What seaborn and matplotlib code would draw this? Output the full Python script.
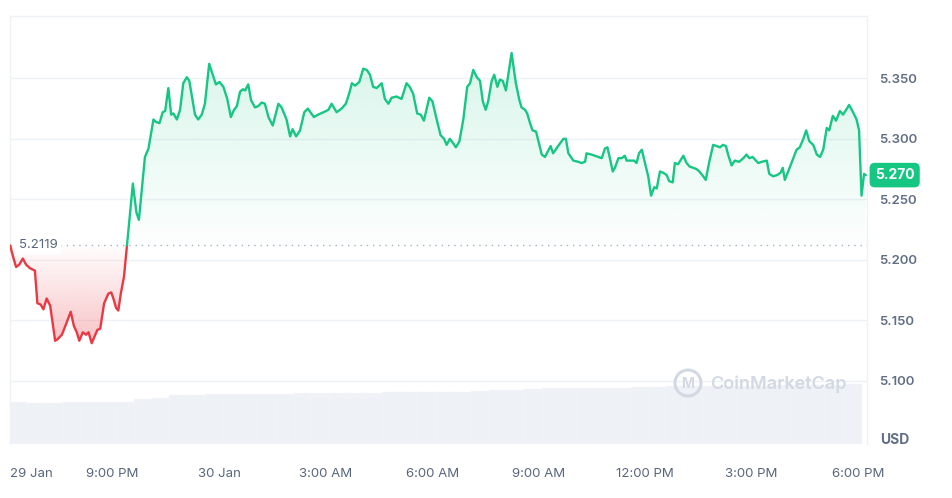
import numpy as np
import pandas as pd
import seaborn as sns
import matplotlib.pyplot as plt
import matplotlib.transforms as mtransforms
from matplotlib.path import Path
from matplotlib.patches import Ellipse

# hours after 29 Jan 00:00
times = [18.11, 18.20, 18.28, 18.37, 18.47, 18.56, 18.67, 18.81, 18.88, 18.97,
         19.05, 19.14, 19.24, 19.38, 19.44, 19.57, 19.69, 19.82, 19.91, 19.99,
         20.06, 20.16, 20.25, 20.32, 20.41, 20.57, 20.65, 20.76, 20.88, 20.96,
         21.02, 21.10, 21.16, 21.23, 21.32, 21.57, 21.67, 21.74, 21.91, 22.01,
         22.15, 22.22, 22.32, 22.41, 22.48, 22.57, 22.65, 22.71, 22.81, 22.90,
         22.99, 23.09, 23.16, 23.32, 23.41, 23.51, 23.60, 23.72, 23.82, 23.91,
         24.01, 24.12, 24.23, 24.33, 24.42, 24.50, 24.59, 24.67, 24.73, 24.82,
         24.90, 25.01, 25.10, 25.20, 25.29, 25.39, 25.51, 25.67, 25.76, 25.90,
         26.00, 26.07, 26.17, 26.28, 26.40, 26.50, 26.67, 26.79, 26.94, 27.08,
         27.17, 27.31, 27.45, 27.57, 27.67, 27.74, 27.83, 27.95, 28.06, 28.16,
         28.25, 28.34, 28.44, 28.58, 28.67, 28.77, 28.86, 29.00, 29.14, 29.28,
         29.37, 29.47, 29.58, 29.68, 29.77, 29.92, 30.01, 30.13, 30.24, 30.34,
         30.41, 30.50, 30.58, 30.67, 30.77, 30.88, 30.99, 31.07, 31.16, 31.26,
         31.35, 31.43, 31.51, 31.58, 31.68, 31.75, 31.84, 31.91, 31.99, 32.08,
         32.24, 32.36, 32.46, 32.52, 32.62, 32.68, 32.76, 32.83, 32.93, 33.09,
         33.18, 33.34, 33.41, 33.55, 33.70, 33.77, 33.84, 33.98, 34.12, 34.21,
         34.31, 34.35, 34.49, 34.68, 34.78, 34.87, 34.94, 35.01, 35.09, 35.15,
         35.25, 35.34, 35.43, 35.48, 35.57, 35.69, 35.76, 35.83, 35.91, 35.99,
         36.09, 36.17, 36.26, 36.33, 36.42, 36.51, 36.61, 36.68, 36.78, 36.84,
         36.93, 37.08, 37.17, 37.26, 37.36, 37.45, 37.53, 37.64, 37.71, 37.81,
         37.92, 38.02, 38.11, 38.20, 38.28, 38.34, 38.44, 38.53, 38.65, 38.77,
         38.86, 38.94, 39.03, 39.19, 39.29, 39.43, 39.50, 39.61, 39.72, 39.82,
         39.88, 39.94, 40.06, 40.18, 40.27, 40.36, 40.46, 40.54, 40.63, 40.74,
         40.84, 40.93, 41.02, 41.12, 41.19, 41.29, 41.38, 41.49, 41.58, 41.75,
         41.86, 41.96, 42.03, 42.10, 42.17, 42.22]

prices = [5.2119, 5.202, 5.194, 5.196, 5.201, 5.196, 5.193, 5.191, 5.164, 5.163,
          5.159, 5.168, 5.162, 5.133, 5.134, 5.138, 5.147, 5.157, 5.145, 5.140,
          5.133, 5.140, 5.138, 5.140, 5.131, 5.142, 5.143, 5.164, 5.172, 5.173,
          5.168, 5.160, 5.158, 5.172, 5.186, 5.263, 5.239, 5.233, 5.285, 5.292,
          5.316, 5.314, 5.313, 5.322, 5.323, 5.342, 5.320, 5.321, 5.316, 5.324,
          5.346, 5.351, 5.348, 5.320, 5.316, 5.320, 5.329, 5.362, 5.353, 5.345,
          5.347, 5.343, 5.333, 5.318, 5.324, 5.327, 5.339, 5.341, 5.340, 5.345,
          5.332, 5.326, 5.327, 5.330, 5.329, 5.318, 5.311, 5.329, 5.326, 5.316,
          5.302, 5.308, 5.302, 5.307, 5.322, 5.325, 5.318, 5.320, 5.322, 5.324,
          5.329, 5.322, 5.325, 5.329, 5.338, 5.346, 5.344, 5.347, 5.358, 5.357,
          5.353, 5.343, 5.342, 5.346, 5.333, 5.329, 5.334, 5.335, 5.333, 5.346,
          5.343, 5.337, 5.321, 5.320, 5.315, 5.334, 5.331, 5.316, 5.303, 5.300,
          5.295, 5.300, 5.297, 5.293, 5.298, 5.316, 5.343, 5.346, 5.357, 5.351,
          5.348, 5.331, 5.324, 5.331, 5.348, 5.353, 5.343, 5.349, 5.348, 5.340,
          5.371, 5.346, 5.332, 5.326, 5.324, 5.321, 5.313, 5.307, 5.306, 5.287,
          5.285, 5.294, 5.288, 5.294, 5.300, 5.300, 5.288, 5.282, 5.281, 5.280,
          5.281, 5.288, 5.287, 5.285, 5.284, 5.292, 5.293, 5.284, 5.273, 5.276,
          5.284, 5.284, 5.286, 5.282, 5.282, 5.282, 5.280, 5.288, 5.291, 5.281,
          5.269, 5.253, 5.260, 5.259, 5.273, 5.272, 5.270, 5.265, 5.264, 5.280,
          5.279, 5.286, 5.280, 5.277, 5.276, 5.275, 5.273, 5.269, 5.266, 5.281,
          5.295, 5.294, 5.293, 5.295, 5.294, 5.287, 5.278, 5.282, 5.281, 5.284,
          5.287, 5.284, 5.285, 5.280, 5.281, 5.282, 5.271, 5.269, 5.270, 5.272,
          5.276, 5.266, 5.275, 5.284, 5.291, 5.293, 5.300, 5.307, 5.298, 5.295,
          5.287, 5.285, 5.291, 5.309, 5.307, 5.319, 5.315, 5.323, 5.320, 5.328,
          5.322, 5.316, 5.307, 5.253, 5.271, 5.270]

# 30-minute volume bars (millions USD), centred from 18:21 onward
vol_times = [18.35 + 0.5 * i for i in range(48)]
volumes = [10.6, 10.3, 10.3, 10.5, 10.5, 10.5, 10.5, 11.3, 11.6, 12.2,
           12.2, 12.4, 12.4, 12.4, 12.4, 12.4, 12.7, 12.7, 12.7, 12.8,
           12.8, 12.9, 12.9, 13.0, 13.0, 13.1, 13.3, 13.5, 13.6, 13.7,
           13.9, 14.0, 14.0, 14.0, 14.1, 14.3, 14.3, 14.4, 14.4, 14.5,
           14.5, 14.6, 14.6, 14.7, 14.7, 14.8, 14.8, 15.0]

base_price = 5.2119
tick_hours = [18.11, 21, 24, 27, 30, 33, 36, 39, 42]
tick_labels = ["29 Jan", "9:00 PM", "30 Jan", "3:00 AM", "6:00 AM",
               "9:00 AM", "12:00 PM", "3:00 PM", "6:00 PM"]
price_ticks = [5.100, 5.150, 5.200, 5.250, 5.300, 5.350]

GREEN = "#16c784"
RED = "#ea3943"
TXT = "#616e85"
GRID = "#eff2f5"

sns.set_theme(style="white")
plt.rcParams['font.family'] = ['Inter', 'DejaVu Sans']

df = pd.DataFrame({'t': times, 'p': prices})

fig = plt.figure(figsize=(9.52, 4.98), dpi=100)
ax = fig.add_axes([0.0102, 0.1084, 0.900, 0.860])
ax2 = ax.twinx()
ax.set_zorder(ax2.get_zorder() + 1)
ax.patch.set_visible(False)

# volume
ax2.bar(vol_times, volumes, width=0.5, color="#eef1f5", edgecolor="#f6f8fa",
        linewidth=0.3, align='center')
ax2.set_ylim(0, 107)
ax2.set_yticks([])
for s in ax2.spines.values():
    s.set_visible(False)

xmin, xmax = 18.10, 42.24
ymin, ymax = 5.0476, 5.4018

# split line at the crossings of the base price
t = df['t'].to_numpy()
p = df['p'].to_numpy()
seg_t, seg_p = [t[0]], [p[0]]
segments = []
above = p[1] >= base_price
for i in range(1, len(t)):
    now_above = p[i] >= base_price
    if now_above != above:
        tc = t[i - 1] + (base_price - p[i - 1]) / (p[i] - p[i - 1]) * (t[i] - t[i - 1])
        seg_t.append(tc)
        seg_p.append(base_price)
        segments.append((above, seg_t, seg_p))
        seg_t, seg_p = [tc], [base_price]
        above = now_above
    seg_t.append(t[i])
    seg_p.append(p[i])
segments.append((above, seg_t, seg_p))


def gradient_fill(where, top_col, top_alpha, bot_alpha, y0, y1):
    poly = ax.fill_between(t, p, base_price, where=where, interpolate=True,
                           facecolor='none', edgecolor='none')
    paths = poly.get_paths()
    if not paths:
        return
    clip = Path.make_compound_path(*paths)
    rgb = np.array(plt.matplotlib.colors.to_rgb(top_col))
    n = 256
    img = np.zeros((n, 1, 4))
    img[:, 0, :3] = rgb
    img[:, 0, 3] = np.linspace(top_alpha, bot_alpha, n)
    im = ax.imshow(img, extent=[xmin, xmax, y0, y1], origin='upper',
                   aspect='auto', zorder=1, interpolation='bilinear')
    im.set_clip_path(clip, transform=ax.transData)


gradient_fill(p >= base_price, GREEN, 0.17, 0.01, base_price, max(prices))
gradient_fill(p <= base_price, RED, 0.01, 0.30, min(prices), base_price)

for is_above, st, sp in segments:
    sns.lineplot(x=st, y=sp, ax=ax, color=GREEN if is_above else RED,
                 linewidth=1.7, sort=False, estimator=None, zorder=3)

ax.axhline(base_price, color="#a6b0c3", linewidth=1, linestyle=(0, (1, 3.5)),
           zorder=2)
ax.annotate(f"{base_price:.4f}", xy=(0, base_price),
            xycoords=mtransforms.blended_transform_factory(ax.transAxes, ax.transData),
            xytext=(7, 0), textcoords='offset points', ha='left', va='center',
            fontsize=9.5, color="#58667e", zorder=4,
            bbox=dict(boxstyle='round,pad=0.25', fc='white', ec='none'))

ax.set_xlim(xmin, xmax)
ax.set_ylim(ymin, ymax)
ax.set_yticks(price_ticks)
ax.set_yticklabels([f"{v:.3f}" for v in price_ticks])
ax.yaxis.tick_right()
ax.tick_params(axis='y', length=0, pad=9, labelsize=9.5, labelcolor=TXT)
for lab in ax.get_yticklabels():
    lab.set_fontweight('semibold')
ax.set_xticks(tick_hours)
ax.set_xticklabels(tick_labels)
ax.tick_params(axis='x', length=0, pad=17, labelsize=9.5, labelcolor="#58667e")
ax.get_xticklabels()[0].set_horizontalalignment('left')
ax.grid(axis='y', color=GRID, linewidth=1)
ax.grid(axis='x', visible=False)
ax.set_xlabel("")
ax.set_ylabel("")
for name, s in ax.spines.items():
    s.set_color(GRID)
    s.set_linewidth(1)
ax.spines['bottom'].set_visible(False)

# current price badge
last = prices[-1]
ax.annotate(f"{last:.3f}", xy=(1, last),
            xycoords=mtransforms.blended_transform_factory(ax.transAxes, ax.transData),
            xytext=(6, 0), textcoords='offset points', ha='left', va='center',
            fontsize=10, fontweight='bold', color='white', zorder=5,
            annotation_clip=False,
            bbox=dict(boxstyle='round,pad=0.38', fc=GREEN, ec='none'))

fig.text(880 / 952, 1 - 440 / 498, "USD", ha='left', va='center',
         fontsize=10, fontweight='bold', color=TXT)

# watermark
fig.patches.append(Ellipse((688 / 952, 1 - 383 / 498), 26 / 952, 26 / 498,
                           transform=fig.transFigure, fill=False,
                           ec="#d3d9e3", lw=2.2))
fig.text(688 / 952, 1 - 384 / 498, "M", ha='center', va='center', fontsize=10,
         fontweight='bold', color="#d3d9e3")
fig.text(710 / 952, 1 - 384 / 498, "CoinMarketCap", ha='left', va='center',
         fontsize=13, fontweight='semibold', color="#d3d9e3")

fig.savefig("out.png", dpi=100)
